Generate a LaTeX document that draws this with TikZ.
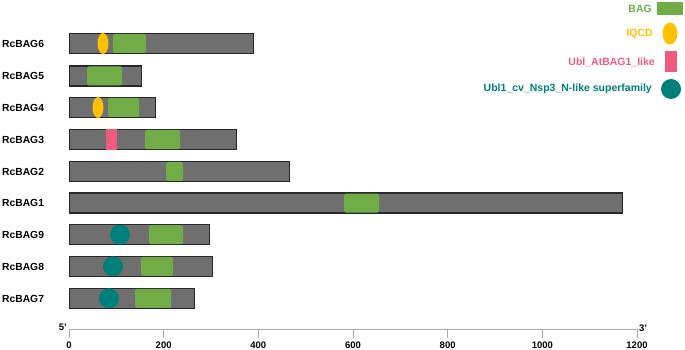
\documentclass[tikz,border=0pt]{standalone}
\usepackage{fontspec}
\setmainfont{Liberation Sans}
\definecolor{bagG}{RGB}{112,173,71}
\definecolor{iqY}{RGB}{255,192,0}
\definecolor{ublP}{RGB}{240,90,125}
\definecolor{ublT}{RGB}{0,128,122}
\definecolor{barF}{RGB}{111,111,111}
\definecolor{barD}{RGB}{40,40,40}
\definecolor{axG}{RGB}{170,170,170}
\tikzset{
  barbox/.style={draw=barD,fill=barF,line width=1.4pt,rectangle,inner sep=0pt,minimum height=20pt,anchor=west},
  bagbox/.style={fill=bagG,rectangle,rounded corners=1.5pt,inner sep=0pt,minimum height=19pt,anchor=west},
  iqell/.style={fill=iqY,ellipse,inner sep=0pt,minimum width=11pt,minimum height=21pt},
  ublrect/.style={fill=ublP,rectangle,inner sep=0pt,minimum height=20pt,anchor=west},
  ublcirc/.style={fill=ublT,circle,inner sep=0pt,minimum size=20pt},
  rowlab/.style={font=\bfseries\fontsize{10.3}{12}\selectfont,anchor=west,inner sep=0pt},
  leglab/.style={font=\bfseries\fontsize{10.5}{12}\selectfont,anchor=east,inner sep=0pt},
  axisline/.style={draw=axG,line width=0.9pt},
  ticklab/.style={font=\bfseries\fontsize{9.5}{11}\selectfont,inner sep=0pt},
}
\usetikzlibrary{shapes.geometric}
\begin{document}
\begin{tikzpicture}[x=1pt,y=-1pt]
\useasboundingbox (0,0) rectangle (685,350);
% row labels
\node[rowlab] (l6) at (2,44) {RcBAG6};
\node[rowlab] (l5) at (2,76) {RcBAG5};
\node[rowlab] (l4) at (2,108) {RcBAG4};
\node[rowlab] (l3) at (2,140) {RcBAG3};
\node[rowlab] (l2) at (2,171.5) {RcBAG2};
\node[rowlab] (l1) at (2,203) {RcBAG1};
\node[rowlab] (l9) at (2,235) {RcBAG9};
\node[rowlab] (l8) at (2,266.5) {RcBAG8};
\node[rowlab] (l7) at (2,298.5) {RcBAG7};
% bars
\node[barbox,minimum width=184pt] (b6) at (68.5,43.5) {};
\node[barbox,minimum width=72.5pt] (b5) at (68.5,76) {};
\node[barbox,minimum width=86.5pt] (b4) at (68.5,107.5) {};
\node[barbox,minimum width=167.5pt] (b3) at (68.5,139.5) {};
\node[barbox,minimum width=220.5pt] (b2) at (68.5,171.3) {};
\node[barbox,minimum width=553.5pt] (b1) at (68.5,203) {};
\node[barbox,minimum width=140.5pt] (b9) at (68.5,234.7) {};
\node[barbox,minimum width=143.5pt] (b8) at (68.5,266.3) {};
\node[barbox,minimum width=125.5pt] (b7) at (68.5,298.3) {};
% domains
\node[bagbox,minimum width=33pt] (g6) at (113,43.5) {};
\node[iqell] (e6) at (103,43.5) {};
\node[bagbox,minimum width=35pt] (g5) at (87,76) {};
\node[bagbox,minimum width=31pt] (g4) at (108,107.5) {};
\node[iqell] (e4) at (98,107.5) {};
\node[ublrect,minimum width=11pt] (p3) at (106,139.5) {};
\node[bagbox,minimum width=35pt] (g3) at (145,139.5) {};
\node[bagbox,minimum width=17pt] (g2) at (166,171.3) {};
\node[bagbox,minimum width=35pt] (g1) at (344,203) {};
\node[bagbox,minimum width=34pt] (g9) at (149,234.7) {};
\node[ublcirc] (c9) at (120,234.7) {};
\node[bagbox,minimum width=32pt] (g8) at (141,266.3) {};
\node[ublcirc] (c8) at (113,266.3) {};
\node[bagbox,minimum width=36pt] (g7) at (135,298.3) {};
\node[ublcirc] (c7) at (109,298.3) {};
% axis
\coordinate (a0) at (69,329);
\coordinate (a1) at (637,329);
\draw[axisline] (a0) -- (a1);
\foreach \i/\v in {0/0,1/200,2/400,3/600,4/800,5/1000,6/1200}{
  \coordinate (t\i) at ({69+\i*94.667},329);
  \coordinate (tb\i) at ({69+\i*94.667},338);
  \draw[axisline] (t\i) -- (tb\i);
  \node[ticklab] (tl\i) at ({69+\i*94.667},345.5) {\v};
}
\node[ticklab,anchor=south east] (five) at (67,331) {5'};
\node[ticklab,anchor=south west] (three) at (639,332) {3'};
% legend
\node[fill=bagG,rectangle,inner sep=0pt,minimum width=26pt,minimum height=13pt] (kg) at (670,8.5) {};
\node[leglab,text=bagG] (kgl) at (652,8.5) {BAG};
\node[iqell,minimum width=15pt,minimum height=22pt] (ke) at (670,33.5) {};
\node[leglab,text=iqY] (kel) at (653,33.5) {IQCD};
\node[fill=ublP,rectangle,inner sep=0pt,minimum width=12pt,minimum height=21pt] (kp) at (671,61.5) {};
\node[leglab,text=ublP] (kpl) at (655,62) {Ubl\_AtBAG1\_like};
\node[ublcirc] (kc) at (671,89) {};
\node[leglab,text=ublT] (kcl) at (652,89) {Ubl1\_cv\_Nsp3\_N-like superfamily};
\end{tikzpicture}
\end{document}
